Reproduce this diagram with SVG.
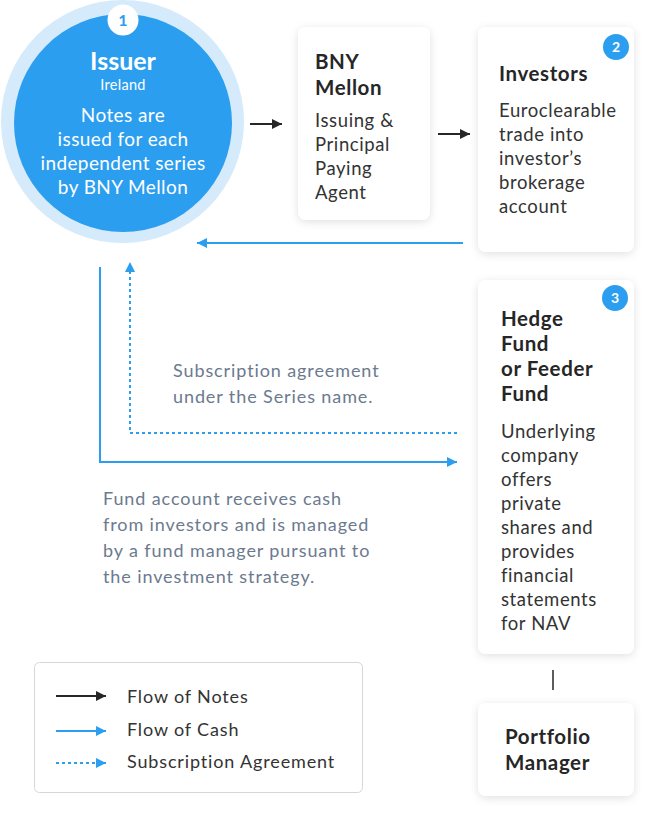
<svg xmlns="http://www.w3.org/2000/svg" width="656" height="828" viewBox="0 0 656 828">
<defs>
<style>
.card{fill:#fff;filter:url(#sh)}
.title{font-family:Lato,"Noto Sans",sans-serif;font-weight:700;font-size:20.5px;letter-spacing:0.6px;fill:#262626}
.body{font-family:Lato,"Noto Sans",sans-serif;font-size:18.5px;letter-spacing:0.6px;fill:#333}
.note{font-family:Lato,"Noto Sans",sans-serif;font-size:18px;letter-spacing:0.9px;fill:#6c7a8e}
.leg{font-family:Lato,"Noto Sans",sans-serif;font-size:18px;letter-spacing:0.85px;fill:#333}
.wt{font-family:Lato,"Noto Sans",sans-serif;fill:#fff}
.blk{stroke:#262626;stroke-width:2;fill:none}
.blu{stroke:#2b9ef0;stroke-width:2;fill:none}
.dot{stroke:#2b9ef0;stroke-width:2;fill:none;stroke-dasharray:3 3}
.badge{fill:#2b9ef0}
.bn{font-family:Lato,"Noto Sans",sans-serif;font-weight:700;font-size:14px;fill:#fff;text-anchor:middle}
</style>
<filter id="sh" x="-20%" y="-20%" width="140%" height="140%">
<feDropShadow dx="0" dy="2" stdDeviation="4" flood-color="#000" flood-opacity="0.12"/>
</filter>
<marker id="ab" viewBox="0 0 10 10" refX="10" refY="5" markerWidth="5" markerHeight="5" orient="auto" markerUnits="strokeWidth"><path d="M0 0L10 5L0 10z" fill="#262626"/></marker>
<marker id="au" viewBox="0 0 10 10" refX="10" refY="5" markerWidth="5" markerHeight="5" orient="auto" markerUnits="strokeWidth"><path d="M0 0L10 5L0 10z" fill="#2b9ef0"/></marker>
</defs>
<rect width="656" height="828" fill="#fff"/>

<g id="issuer">
<circle cx="122.5" cy="121.5" r="121.5" fill="#d5eafb"/>
<circle cx="123" cy="123" r="109" fill="#2b9ef0"/>
<circle cx="123" cy="20" r="15.5" fill="#fff"/>
<text x="123" y="26" font-family="Lato,'Noto Sans',sans-serif" font-size="16" font-weight="700" fill="#2b9ef0" text-anchor="middle">1</text>
<text class="wt" x="123" y="70" font-size="25" font-weight="700" text-anchor="middle">Issuer</text>
<text class="wt" x="123" y="90" font-size="14.5" letter-spacing="0.3" text-anchor="middle">Ireland</text>
<text class="wt" font-size="19" letter-spacing="0.4" text-anchor="middle"><tspan x="123" y="122">Notes are</tspan><tspan x="123" y="146">issued for each</tspan><tspan x="123" y="170">independent series</tspan><tspan x="123" y="194">by BNY Mellon</tspan></text>
</g>

<g id="bny">
<rect class="card" x="298" y="27" width="132" height="193" rx="8"/>
<text class="title"><tspan x="315" y="69">BNY</tspan><tspan x="315" y="95">Mellon</tspan></text>
<text class="body"><tspan x="315" y="127">Issuing &amp;</tspan><tspan x="315" y="151">Principal</tspan><tspan x="315" y="175">Paying</tspan><tspan x="315" y="199">Agent</tspan></text>
</g>

<g id="investors">
<rect class="card" x="478" y="27" width="156" height="225" rx="8"/>
<circle class="badge" cx="616" cy="47" r="13"/>
<text class="bn" x="616" y="52">2</text>
<text class="title" x="499" y="81">Investors</text>
<text class="body"><tspan x="499" y="117">Euroclearable</tspan><tspan x="499" y="141">trade into</tspan><tspan x="499" y="165">investor’s</tspan><tspan x="499" y="189">brokerage</tspan><tspan x="499" y="213">account</tspan></text>
</g>

<g id="hedge">
<rect class="card" x="478" y="280" width="156" height="374" rx="8"/>
<circle class="badge" cx="615" cy="298" r="13"/>
<text class="bn" x="615" y="303">3</text>
<text class="title"><tspan x="501" y="326">Hedge</tspan><tspan x="501" y="351">Fund</tspan><tspan x="501" y="376">or Feeder</tspan><tspan x="501" y="401">Fund</tspan></text>
<text class="body"><tspan x="501" y="438">Underlying</tspan><tspan x="501" y="462">company</tspan><tspan x="501" y="486">offers</tspan><tspan x="501" y="510">private</tspan><tspan x="501" y="534">shares and</tspan><tspan x="501" y="558">provides</tspan><tspan x="501" y="582">financial</tspan><tspan x="501" y="606">statements</tspan><tspan x="501" y="630">for NAV</tspan></text>
</g>

<g id="portfolio">
<rect class="card" x="478" y="703" width="156" height="93" rx="8"/>
<text class="title"><tspan x="505" y="744">Portfolio</tspan><tspan x="505" y="770">Manager</tspan></text>
</g>

<g id="connectors">
<line class="blk" x1="250" y1="124" x2="282" y2="124" marker-end="url(#ab)"/>
<line class="blk" x1="438" y1="134" x2="470" y2="134" marker-end="url(#ab)"/>
<line class="blu" x1="463" y1="243" x2="197" y2="243" marker-end="url(#au)"/>
<path class="blu" d="M100 267V462H457" marker-end="url(#au)"/>
<path class="dot" d="M457 433H130V262" marker-end="url(#au)"/>
<line x1="553" y1="670" x2="553" y2="690" stroke="#262626" stroke-width="1.5"/>
</g>

<g id="notes">
<text class="note"><tspan x="173" y="377">Subscription agreement</tspan><tspan x="173" y="403">under the Series name.</tspan></text>
<text class="note"><tspan x="103" y="505">Fund account receives cash</tspan><tspan x="103" y="531">from investors and is managed</tspan><tspan x="103" y="557">by a fund manager pursuant to</tspan><tspan x="103" y="583">the investment strategy.</tspan></text>
</g>

<g id="legend">
<rect x="34.5" y="662.5" width="328" height="130" rx="5" fill="#fff" stroke="#d3d7dc"/>
<line class="blk" x1="56" y1="696" x2="106" y2="696" marker-end="url(#ab)"/>
<line class="blu" x1="56" y1="731" x2="106" y2="731" marker-end="url(#au)"/>
<line class="dot" x1="56" y1="763" x2="106" y2="763" marker-end="url(#au)"/>
<text class="leg" x="127" y="703">Flow of Notes</text>
<text class="leg" x="127" y="736">Flow of Cash</text>
<text class="leg" x="127" y="768">Subscription Agreement</text>
</g>
</svg>
